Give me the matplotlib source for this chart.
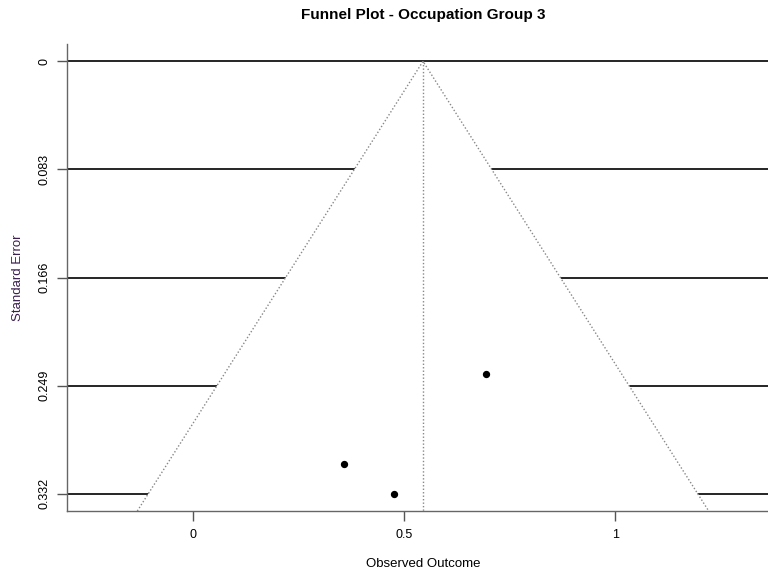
import matplotlib.pyplot as plt
import numpy as np
from matplotlib.patches import Polygon

# observed outcomes and standard errors
yi = [0.694, 0.357, 0.476]
sei = [0.2402, 0.3092, 0.332]
se_ticks = [0, 0.083, 0.166, 0.249, 0.332]
se_labels = ["0", "0.083", "0.166", "0.249", "0.332"]
x_ticks = [0, 0.5, 1]
x_labels = ["0", "0.5", "1"]

plt.rcParams['font.family'] = ['Liberation Sans', 'DejaVu Sans']

# fixed-effect estimate
w = 1.0 / np.array(sei) ** 2
est = np.sum(w * np.array(yi)) / np.sum(w)

# R-style limits
ymax = max(sei)
ylim = (ymax + 0.04 * ymax, -0.04 * ymax)
lb = est - 1.96 * ymax
ub = est + 1.96 * ymax
xl, xr = min(lb, min(yi)), max(ub, max(yi))
r = xr - xl
xl, xr = xl - 0.1 * r, xr + 0.1 * r
r = xr - xl
xlim = (xl - 0.04 * r, xr + 0.04 * r)

fig = plt.figure(figsize=(7.68, 5.69), dpi=100)
ax = fig.add_axes([67 / 768, 58 / 569, (779 - 67) / 768, 467 / 569])
ax.set_xlim(xlim)
ax.set_ylim(ylim)

for s in se_ticks:
    ax.axhline(s, color='black', lw=1.2, zorder=1)

se_bot = ylim[0]
funnel = Polygon([(est - 1.96 * se_bot, se_bot), (est, 0), (est + 1.96 * se_bot, se_bot)],
                 closed=False, facecolor='white', edgecolor='#888888', lw=1.0,
                 linestyle=(0, (1, 1.5)), zorder=2)
ax.add_patch(funnel)
ax.plot([est, est], [0, se_bot], color='#888888', lw=1.0, linestyle=(0, (1, 1.5)), zorder=3)

ax.scatter(yi, sei, s=18, color='black', zorder=4)

ax.set_yticks(se_ticks)
ax.set_yticklabels(se_labels, rotation=90, va='center', fontsize=9)
ax.set_xticks(x_ticks)
ax.set_xticklabels(x_labels, fontsize=9)
ax.tick_params(axis='both', length=7, width=1, color='#555555', pad=6)
ax.tick_params(axis='y', pad=5)
for side in ['top', 'right']:
    ax.spines[side].set_visible(False)
for side in ['left', 'bottom']:
    ax.spines[side].set_color('#666666')
    ax.spines[side].set_linewidth(1)

ax.set_xlabel("Observed Outcome", fontsize=9.5, labelpad=12)
ax.set_ylabel("Standard Error", fontsize=9.5, color='#3b1e4f', labelpad=10)
fig.text(423 / 768, 1 - 15 / 569, "Funnel Plot - Occupation Group 3",
         ha='center', va='center', fontsize=11, fontweight='bold')

fig.savefig("out.png", dpi=100)
